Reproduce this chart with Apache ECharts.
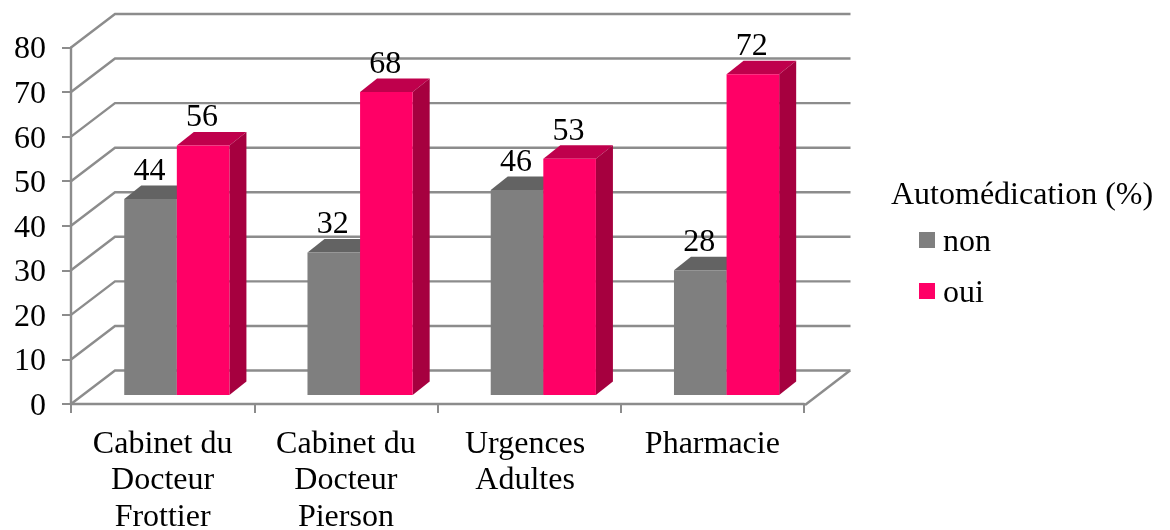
<!DOCTYPE html>
<html lang="fr">
<head>
    <meta charset="UTF-8">
    <title>Automédication</title>
    <script src="https://cdn.jsdelivr.net/npm/echarts@6/dist/echarts.min.js"></script>
</head>
<style>
    body{
        margin: 0;
        padding: 0;
        background: #fff;
    }
</style>
<body>
<div id="main" style="width: 1170px;height:530px;"></div>
<script>
    var categories = ['Cabinet du\nDocteur\nFrottier', 'Cabinet du\nDocteur\nPierson', 'Urgences \nAdultes ', 'Pharmacie'];
    var nonValues = [44, 32, 46, 28];
    var ouiValues = [56, 68, 53, 72];
    var yTicks = [0, 10, 20, 30, 40, 50, 60, 70, 80];

    var fontName = '"Liberation Serif", "Times New Roman", serif';
    var fontSize = 32;
    var lineColor = '#8c8c8c';

    // fausse 3D : décalage du mur du fond et profondeur des barres
    var wallDx = 44, wallDy = -33.5;
    var barDx = 17, barDy = -13.5;

    function renderWall(params, api) {
        var band = api.size([1, 0])[0];
        var p = api.coord([0, api.value(1)]);
        var left = p[0] - band / 2;
        var right = api.coord([categories.length - 1, 0])[0] + band / 2;
        var y = p[1];
        var lineStyle = {stroke: lineColor, lineWidth: 2.4, fill: null};
        var children = [
            {type: 'polyline', shape: {points: [[left, y], [left + wallDx, y + wallDy], [right + wallDx + 2.5, y + wallDy]]}, style: lineStyle}
        ];
        if (api.value(1) === 0) {
            children.push({type: 'line', shape: {x1: right + 1, y1: y + 1, x2: right + wallDx + 2, y2: y + wallDy}, style: lineStyle});
        }
        return {type: 'group', children: children};
    }

    function makeBarRenderer(side, front, top, dark) {
        return function (params, api) {
            var band = api.size([1, 0])[0];
            var width = band * 0.287;
            var p = api.coord([api.value(0), api.value(1)]);
            var zero = api.coord([api.value(0), 0]);
            var x0 = p[0] + band * 0.0775 + (side < 0 ? -width : 0);
            var x1 = x0 + width;
            var base = zero[1] - 9;
            var y = p[1] - 9;
            return {
                type: 'group',
                children: [
                    {type: 'polygon', shape: {points: [[x0, y], [x0 + barDx, y + barDy], [x1 + barDx, y + barDy], [x1, y]]}, style: {fill: top}},
                    {type: 'polygon', shape: {points: [[x1, y], [x1 + barDx, y + barDy], [x1 + barDx, base + barDy], [x1, base]]}, style: {fill: dark}},
                    {type: 'rect', shape: {x: x0, y: y, width: width, height: base - y}, style: {fill: front}},
                    {type: 'text', z2: 50, style: {
                        text: String(api.value(1)), x: (x0 + x1) / 2 - 1, y: y - 27.5,
                        align: 'center', verticalAlign: 'middle',
                        fontFamily: fontName, fontSize: fontSize, fill: '#000'
                    }}
                ]
            };
        };
    }

    function toData(values) {
        return values.map(function (v, i) { return [i, v]; });
    }

    var chart = echarts.init(document.getElementById('main'));
    var option = {
        animation: false,
        backgroundColor: '#fff',
        title: {
            text: 'Automédication (%)',
            left: 891,
            top: 180,
            padding: 0,
            textStyle: {fontFamily: fontName, fontSize: fontSize, fontWeight: 'normal', color: '#000'}
        },
        legend: {
            data: ['non', 'oui'],
            orient: 'vertical',
            left: 919,
            top: 227,
            padding: 0,
            icon: 'rect',
            itemWidth: 16,
            itemHeight: 16,
            itemGap: 19,
            selectedMode: false,
            formatter: '{t|{name}}',
            textStyle: {
                fontFamily: fontName, fontSize: fontSize, color: '#000',
                rich: {t: {fontFamily: fontName, fontSize: fontSize, color: '#000', padding: [6, 0, 0, 3]}}
            }
        },
        grid: {left: 71, top: 47.5, width: 733, height: 356.5, outerBoundsMode: 'none'},
        xAxis: {
            type: 'category',
            data: categories,
            axisLine: {lineStyle: {color: lineColor, width: 2.4}},
            axisTick: {show: true, length: 9, lineStyle: {color: lineColor, width: 2}},
            axisLabel: {interval: 0, margin: 22, fontFamily: fontName, fontSize: fontSize, color: '#000', lineHeight: 36.7}
        },
        yAxis: {
            type: 'value',
            min: 0,
            max: 80,
            interval: 10,
            splitLine: {show: false},
            axisLine: {show: true, lineStyle: {color: lineColor, width: 2.4}},
            axisTick: {show: true, length: 9, lineStyle: {color: lineColor, width: 2}},
            axisLabel: {
                margin: 25,
                formatter: '{t|{value}}',
                rich: {t: {fontFamily: fontName, fontSize: fontSize, color: '#000', padding: [5, 0, 0, 0]}}
            }
        },
        series: [
            {
                name: 'mur',
                type: 'custom',
                silent: true,
                clip: false,
                z: 1,
                renderItem: renderWall,
                encode: {x: 0, y: 1},
                data: yTicks.map(function (v) { return [0, v]; })
            },
            {
                name: 'non',
                type: 'custom',
                clip: false,
                z: 2,
                itemStyle: {color: '#7f7f7f'},
                renderItem: makeBarRenderer(-1, '#7f7f7f', '#636363', '#555555'),
                encode: {x: 0, y: 1},
                data: toData(nonValues)
            },
            {
                name: 'oui',
                type: 'custom',
                clip: false,
                z: 3,
                itemStyle: {color: '#ff0066'},
                renderItem: makeBarRenderer(1, '#ff0066', '#bf004c', '#a6003f'),
                encode: {x: 0, y: 1},
                data: toData(ouiValues)
            }
        ]
    };
    chart.setOption(option);
</script>
</body>
</html>
